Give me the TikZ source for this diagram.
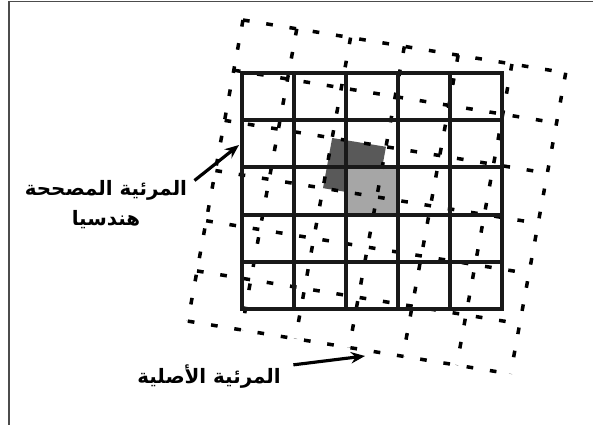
\documentclass[tikz,border=0pt]{standalone}
\usepackage{fontspec}
\newfontfamily\arabicfont[Script=Arabic]{DejaVu Sans}
\TeXXeTstate=1
\usetikzlibrary{arrows.meta}
\begin{document}
\begin{tikzpicture}[x=0.02cm,y=-0.02cm,
  grid line/.style={line width=2.2pt,black!90},
  warp line/.style={line width=2pt,dash pattern=on 3.8pt off 9.6pt},
  pointer/.style={line width=1.8pt,-{Stealth[length=8pt,width=6.5pt]}},
  lbl/.style={font=\arabicfont\bfseries\fontsize{11.3}{17}\selectfont,align=center,inner sep=0pt}]
 \useasboundingbox (0,0) rectangle (593,425);
 \draw[line width=1.1pt,black!70] (9,425) -- (9,1.5) -- (593,1.5);
 \begin{scope}[shift={(243,20)},x={(1.076cm,-0.176cm)},y={(-0.184cm,-1.004cm)}]
  \fill[black!65] (2,2) -- (3,2) -- (3,3) -- (2,3) -- cycle;
 \end{scope}
 \fill[black!35] (346,167.4) rectangle (398,214.6);
 \begin{scope}[shift={(243,20)},x={(1.076cm,-0.176cm)},y={(-0.184cm,-1.004cm)}]
  \foreach \i in {0,...,6} {
   \draw[warp line] (\i,0) -- (\i,6);
   \draw[warp line] (0,\i) -- (6,\i);
  }
 \end{scope}
 \draw[grid line] (242,73) rectangle (502,309);
 \foreach \x in {294,346,398,450} \draw[grid line] (\x,73) -- (\x,309);
 \foreach \y in {120.2,167.4,214.6,261.8} \draw[grid line] (242,\y) -- (502,\y);
 \node[lbl] (corrected) at (106,205) {\beginR المرئية المصححة\endR\\\beginR هندسيا\endR};
 \node[lbl] (original) at (209,377) {\beginR المرئية الأصلية\endR};
 \coordinate (corrected tip) at (239,145);
 \coordinate (original tip) at (365,356);
 \draw[pointer] ([xshift=4pt]corrected.north east) -- (corrected tip);
 \draw[pointer] ([xshift=7pt]original.north east) -- (original tip);
\end{tikzpicture}
\end{document}
